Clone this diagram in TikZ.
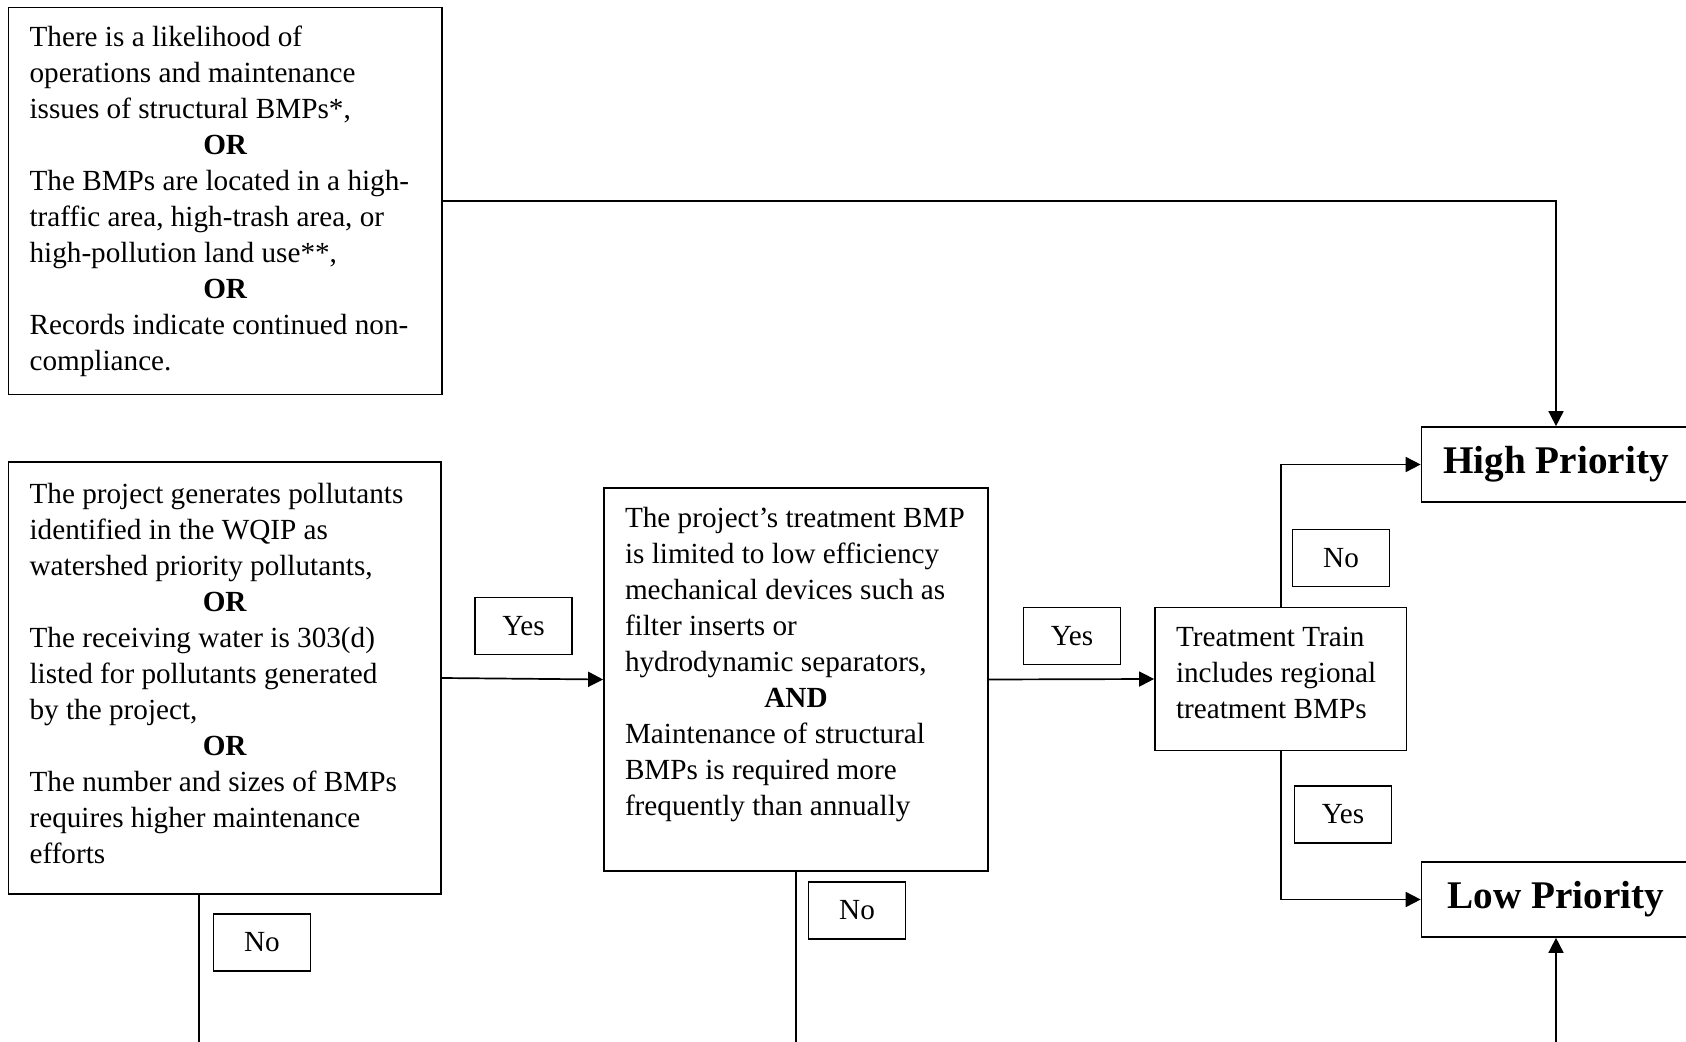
\documentclass[tikz,border=0pt]{standalone}
\usepackage{fontspec}
\setmainfont{Liberation Serif}
\usetikzlibrary{arrows.meta}
\tikzset{
	cond/.style={draw, line width=0.85pt, align=left, inner xsep=10.5pt, inner ysep=0pt, font=\fontsize{14.6}{18}\selectfont},
	prio/.style={draw, line width=0.85pt, minimum width=134.5pt, minimum height=37.5pt, inner sep=0pt, font=\fontsize{19.6}{22}\selectfont\bfseries},
	tag/.style={draw, line width=0.85pt, minimum width=48.5pt, minimum height=28.5pt, inner sep=0pt, font=\fontsize{14.6}{18}\selectfont},
	flow/.style={line width=0.85pt, -{Triangle[length=7.5pt,width=7.5pt]}},
	wire/.style={line width=0.85pt},
}
\newcommand{\joinword}[2]{\makebox[#1]{\textbf{#2}}}

\begin{document}
\begin{tikzpicture}[x=0.5pt, y=-0.5pt]
	\useasboundingbox (0,0) rectangle (1686,1042);
	\clip (0,0) rectangle (1686,1042);

	\node[cond, minimum width=216.7pt, minimum height=193.5pt]	(risk)		at (225.3,201)		{There is a likelihood of\\ operations and maintenance\\ issues of structural BMPs*,\\ \joinword{195.7pt}{OR}\\ The BMPs are located in a high-\\ traffic area, high-trash area, or\\ high-pollution land use**,\\ \joinword{195.7pt}{OR}\\ Records indicate continued non-\\ compliance.};
	\node[cond, minimum width=216.2pt, minimum height=216pt]	(pollut)	at (224.8,678)		{The project generates pollutants\\ identified in the WQIP as\\ watershed priority pollutants,\\ \joinword{195.2pt}{OR}\\ The receiving water is 303(d)\\ listed for pollutants generated\\ by the project,\\ \joinword{195.2pt}{OR}\\ The number and sizes of BMPs\\ requires higher maintenance\\ efforts\\[-13.7pt] \mbox{}};
	\node[cond, minimum width=192pt, minimum height=191.5pt]	(limited)	at (796,679.5)		{The project's treatment BMP\\ is limited to low efficiency\\ mechanical devices such as\\ filter inserts or\\ hydrodynamic separators,\\ \joinword{171pt}{AND}\\ Maintenance of structural\\ BMPs is required more\\ frequently than annually\\ \mbox{}};
	\node[cond, minimum width=125.75pt, minimum height=71.5pt]	(train)		at (1280.75,679)	{\makebox[104.75pt][l]{Treatment Train}\\ includes regional\\ treatment BMPs\\[-12pt] \mbox{}};
	\node[prio]													(high)		at (1556,464.5)		{High Priority};
	\node[prio]													(low)		at (1556,899.5)		{Low Priority};

	\node[tag]	(yespollut)		at (523.5,626)		{Yes};
	\node[tag]	(yeslimited)	at (1072,636)		{Yes};
	\node[tag]	(notrain)		at (1341,558)		{No};
	\node[tag]	(yestrain)		at (1343,814.5)		{Yes};
	\node[tag]	(nopollut)		at (262,942.5)		{No};
	\node[tag]	(nolimited)		at (857,910.5)		{No};

	\coordinate (pollutout)		at (199,1060);
	\coordinate (limitedout)	at (796,1060);
	\coordinate (lowin)			at (1556,1060);

	\draw[flow]	(risk.east)		-| (high.north);
	\draw[flow]	(pollut.east)	-- (limited.west);
	\draw[flow]	(limited.east)	-- (train.west);
	\draw[flow]	(train.north)	|- (high.west);
	\draw[flow]	(train.south)	|- (low.west);
	\draw[flow]	(lowin)			-- (low.south);
	\draw[wire]	(pollut.south -| pollutout)	-- (pollutout);
	\draw[wire]	(limited.south)	-- (limitedout);
\end{tikzpicture}
\end{document}
